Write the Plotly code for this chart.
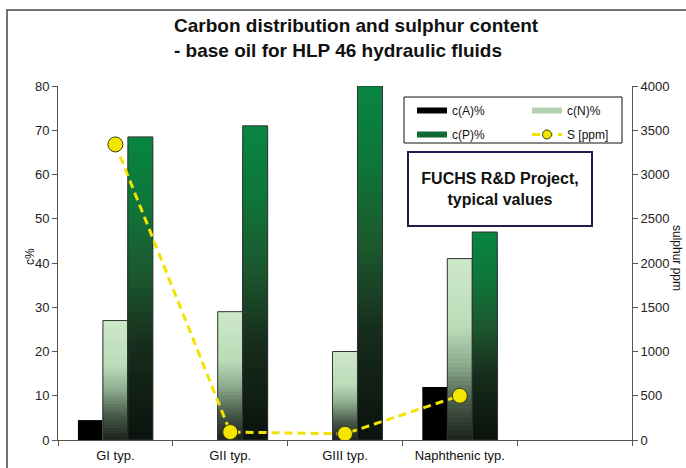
import plotly.graph_objects as go

# Base oil groups (last slot left empty)
categories = ["GI typ.", "GII typ.", "GIII typ.", "Naphthenic typ.", ""]

# Carbon distribution, % (aromatic / naphthenic / paraffinic)
c_a = [4.5, 0, 0, 12, None]
c_n = [27, 29, 20, 41, None]
c_p = [68.5, 71, 80, 47, None]

# Sulphur content, ppm
sulphur = [3340, 90, 70, 500, None]

W, H = 686, 468
L, R, T, B = 58, 54, 86, 28
PW, PH = W - L - R, H - T - B


def px(x):
    return (x - L) / PW


def py(y):
    return (H - B - y) / PH


def blend(stops, t):
    for (t0, c0), (t1, c1) in zip(stops, stops[1:]):
        if t <= t1:
            f = 0 if t1 == t0 else (t - t0) / (t1 - t0)
            c = [round(a + (b - a) * f) for a, b in zip(c0, c1)]
            return "rgb(%d,%d,%d)" % tuple(c)
    return "rgb(%d,%d,%d)" % tuple(stops[-1][1])


N_STOPS = [(0.0, (28, 34, 28)), (0.2, (70, 88, 72)), (0.42, (140, 172, 142)),
           (0.62, (186, 220, 184)), (1.0, (206, 232, 202))]
P_STOPS = [(0.0, (10, 18, 12)), (0.3, (22, 44, 28)), (0.55, (28, 88, 46)),
           (0.78, (14, 118, 58)), (1.0, (8, 134, 64))]

x_idx = list(range(len(categories)))
fig = go.Figure()

# aromatic share: solid black bars
fig.add_trace(go.Bar(x=x_idx, y=c_a, offsetgroup="a", marker_color="black",
                     marker_line_width=0, showlegend=False, hoverinfo="skip"))

# gradient bars: nested bars from full height downwards, each a bit darker
NSEG = 40
for grp, vals, stops in (("n", c_n, N_STOPS), ("p", c_p, P_STOPS)):
    for k in range(NSEG):
        frac = (NSEG - k) / NSEG
        fig.add_trace(go.Bar(
            x=x_idx,
            y=[None if v is None else v * frac for v in vals],
            offsetgroup=grp, marker_color=blend(stops, frac - 0.5 / NSEG),
            marker_line_width=0, showlegend=False, hoverinfo="skip"))
    fig.add_trace(go.Bar(x=x_idx, y=vals, offsetgroup=grp,
                         marker_color="rgba(0,0,0,0)",
                         marker_line=dict(color="#333", width=1),
                         showlegend=False, hoverinfo="skip"))

# sulphur line on the secondary axis
S_LINE = dict(color="#f2e200", width=3, dash="8px,5px")
fig.add_trace(go.Scatter(
    x=x_idx, y=sulphur, yaxis="y2", name="S [ppm]", mode="lines+markers",
    line=S_LINE,
    marker=dict(size=15, color="#f5e600", line=dict(color="#3a3a10", width=1)),
    showlegend=False, connectgaps=False))

# legend entries
for name, col, lg in (("c(A)%", "black", "legend"), ("c(N)%", "#b4d2b2", "legend"),
                      ("c(P)%", "#0e6a32", "legend2")):
    fig.add_trace(go.Scatter(x=[None], y=[None], mode="lines", name=name,
                             line=dict(color=col, width=6), legend=lg))
fig.add_trace(go.Scatter(x=[None], y=[None], yaxis="y2", mode="lines+markers",
                         name="S [ppm]", line=S_LINE, legend="legend2",
                         marker=dict(size=9, color="#f5e600",
                                     line=dict(color="#3a3a10", width=1))))

font = "Liberation Sans, Arial, sans-serif"
axis_style = dict(showline=True, linecolor="#555", linewidth=1, showgrid=False,
                  zeroline=False, ticks="outside", ticklen=5, tickcolor="#555",
                  automargin=False, tickfont=dict(size=13, color="#222"))

legend_style = dict(orientation="h", xanchor="left", yanchor="top",
                    bgcolor="rgba(0,0,0,0)", borderwidth=0,
                    font=dict(size=12, color="#111"),
                    entrywidth=70, entrywidthmode="pixels")

fig.update_layout(
    width=W, height=H,
    margin=dict(l=L, r=R, t=T, b=B, pad=0, autoexpand=False),
    paper_bgcolor="white", plot_bgcolor="white",
    font=dict(family=font, color="#111"),
    barmode="group", bargap=0.347, bargroupgap=0,
    xaxis=dict(range=[-0.5, 4.5], tickmode="array", tickvals=x_idx,
               ticktext=categories, showline=True, linecolor="#555",
               showgrid=False, zeroline=False, ticks="", ticklen=0,
               ticklabelstandoff=3, automargin=False,
               tickfont=dict(size=13, color="#111"),
               minor=dict(tickmode="linear", tick0=0.5, dtick=1,
                          ticks="outside", ticklen=5, tickcolor="#555")),
    yaxis=dict(range=[0, 80], dtick=10, **axis_style),
    yaxis2=dict(range=[0, 4000], dtick=500, overlaying="y", side="right",
                **axis_style),
    legend=dict(x=px(412), y=py(96), **legend_style),
    legend2=dict(x=px(412), y=py(120), **legend_style),
    showlegend=True,
)

# legend frame
fig.add_shape(type="rect", xref="paper", yref="paper", x0=px(404), y0=py(97),
              x1=px(622), y1=py(143), line=dict(color="#111", width=1),
              fillcolor="white", layer="below")

fig.add_annotation(
    text="<b>Carbon distribution and sulphur content<br>"
         "- base oil for HLP 46 hydraulic fluids</b>",
    xref="paper", yref="paper", x=px(172), y=py(38), xanchor="left",
    yanchor="middle", align="left", showarrow=False,
    font=dict(size=19, color="#111"))

fig.add_annotation(
    text="<b>FUCHS R&D Project,<br>typical values</b>",
    xref="paper", yref="paper", x=px(500), y=py(189), xanchor="center",
    yanchor="middle", showarrow=False, width=178, height=68, borderpad=2,
    bordercolor="#1c1f50", borderwidth=2, bgcolor="white",
    font=dict(size=16, color="#111"))

fig.add_annotation(text="c%", xref="paper", yref="paper", x=px(21), y=py(257),
                   textangle=-90, showarrow=False, font=dict(size=12, color="#111"))
fig.add_annotation(text="sulphur ppm", xref="paper", yref="paper", x=px(686),
                   y=py(258), textangle=90, showarrow=False,
                   font=dict(size=12, color="#111"))

# outer chart frame
fig.add_shape(type="rect", xref="paper", yref="paper", x0=px(7), y0=py(10),
              x1=px(760), y1=py(520), line=dict(color="#444", width=1.5),
              layer="below")

fig.write_html("out.html")
